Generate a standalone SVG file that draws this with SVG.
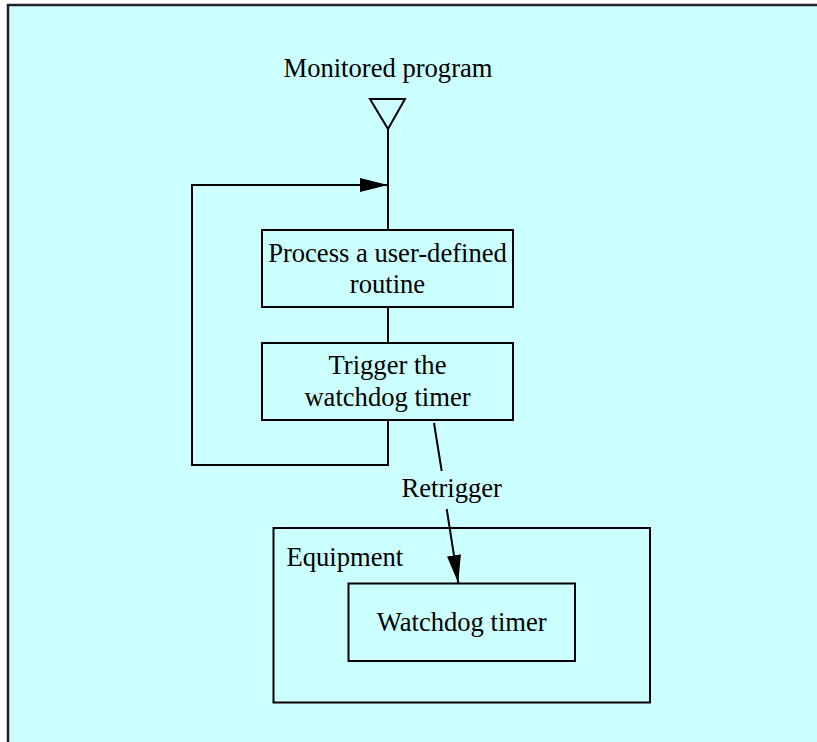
<svg xmlns="http://www.w3.org/2000/svg" width="817" height="742" viewBox="0 0 817 742">
  <defs>
    <style>
      .t { font-family: "Liberation Serif", "Times New Roman", serif; font-size: 26.6px; fill: #000; }
      .box { fill: #CCFFFF; stroke: #000; stroke-width: 2; }
      .ln { fill: none; stroke: #000; stroke-width: 2; }
    </style>
    <marker id="arr" markerWidth="28" markerHeight="14" refX="28" refY="7" orient="auto" markerUnits="userSpaceOnUse">
      <path d="M0,0 L28,7 L0,14 Z" fill="#000"/>
    </marker>
  </defs>
  <rect x="0" y="0" width="817" height="742" fill="#FFFFFF"/>
  <rect x="8" y="5" width="830" height="760" fill="#CCFFFF" stroke="#222" stroke-width="2.5"/>

  <g id="start">
    <text class="t" x="388" y="77" text-anchor="middle">Monitored program</text>
    <polygon points="370,99 405,99 388,129" fill="#CCFFFF" stroke="#000" stroke-width="2"/>
  </g>

  <g id="process">
    <rect class="box" x="262" y="230" width="251" height="77"/>
    <text class="t" x="387.5" y="262" text-anchor="middle">Process a user-defined</text>
    <text class="t" x="387.5" y="293" text-anchor="middle">routine</text>
  </g>

  <g id="trigger">
    <rect class="box" x="262" y="343" width="251" height="77"/>
    <text class="t" x="387.5" y="374" text-anchor="middle">Trigger the</text>
    <text class="t" x="387.5" y="406" text-anchor="middle">watchdog timer</text>
  </g>

  <g id="equipment">
    <rect class="box" x="273.5" y="528" width="376.5" height="174.5"/>
    <text class="t" x="286.5" y="566">Equipment</text>
  </g>

  <g id="watchdog">
    <rect class="box" x="348.5" y="583.5" width="226.5" height="77.5"/>
    <text class="t" x="461.7" y="631" text-anchor="middle">Watchdog timer</text>
  </g>

  <g id="connectors">
    <line class="ln" x1="388" y1="129" x2="388" y2="230"/>
    <line class="ln" x1="388" y1="307" x2="388" y2="343"/>
    <polyline class="ln" points="388,420 388,465 192,465 192,185 388,185" marker-end="url(#arr)"/>
    <line class="ln" x1="434" y1="423" x2="441.7" y2="471"/>
    <line class="ln" x1="446.7" y1="509" x2="458.3" y2="583" marker-end="url(#arr)"/>
    <text class="t" x="451.7" y="497" text-anchor="middle">Retrigger</text>
  </g>
</svg>
